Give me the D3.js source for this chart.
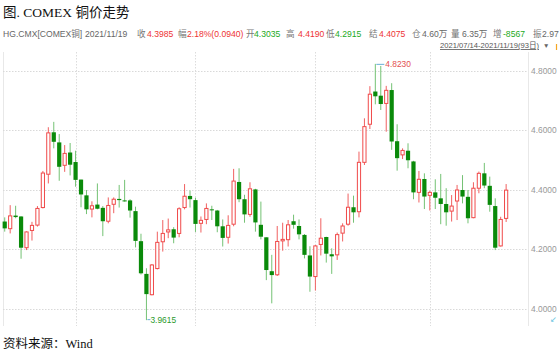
<!DOCTYPE html>
<html>
<head>
<meta charset="utf-8">
<script src="https://cdn.jsdelivr.net/npm/d3@7"></script>
<style>
  body { margin: 0; background: #fff; }
  svg { display: block; }
</style>
</head>
<body>
<div id="chart"></div>
<script>
// daily OHLC, 2021/07/14 - 2021/11/19 (93 sessions)
var openP = [4.293,4.269,4.313,4.310,4.205,4.263,4.281,4.340,4.452,4.593,4.559,4.482,4.525,4.493,4.434,4.381,4.335,4.350,4.339,4.294,
  4.351,4.369,4.364,4.364,4.328,4.227,4.117,4.047,4.135,4.225,4.258,4.267,4.253,4.340,4.379,4.365,4.287,4.300,4.334,4.330,
  4.277,4.240,4.284,4.426,4.368,4.317,4.401,4.282,4.240,4.126,4.114,4.228,4.232,4.294,4.278,4.248,4.179,4.108,4.216,4.241,
  4.183,4.181,4.254,4.284,4.341,4.326,4.492,4.620,4.730,4.716,4.690,4.735,4.563,4.517,4.531,4.495,4.391,4.436,4.381,4.391,
  4.371,4.352,4.328,4.362,4.399,4.376,4.306,4.405,4.455,4.413,4.345,4.211,4.3035];
var highP = [4.307,4.348,4.346,4.311,4.260,4.292,4.345,4.463,4.610,4.628,4.587,4.550,4.557,4.531,4.434,4.399,4.361,4.421,4.345,4.374,
  4.374,4.416,4.433,4.368,4.343,4.252,4.136,4.150,4.259,4.298,4.303,4.274,4.341,4.419,4.397,4.373,4.310,4.354,4.346,4.332,
  4.300,4.314,4.470,4.472,4.383,4.425,4.403,4.360,4.240,4.181,4.278,4.289,4.298,4.316,4.300,4.251,4.210,4.214,4.304,4.242,
  4.203,4.256,4.287,4.387,4.380,4.528,4.640,4.748,4.823,4.816,4.749,4.758,4.620,4.539,4.556,4.497,4.463,4.455,4.396,4.435,
  4.453,4.405,4.382,4.416,4.449,4.399,4.425,4.461,4.490,4.444,4.371,4.309,4.419];
var lowP = [4.259,4.253,4.304,4.168,4.197,4.229,4.276,4.337,4.421,4.539,4.430,4.460,4.448,4.410,4.341,4.318,4.307,4.334,4.244,4.287,
  4.321,4.340,4.360,4.306,4.206,4.115,3.9615,4.045,4.132,4.192,4.237,4.220,4.240,4.334,4.340,4.258,4.256,4.284,4.298,4.257,
  4.209,4.219,4.277,4.358,4.289,4.309,4.259,4.233,4.096,4.018,4.110,4.195,4.209,4.269,4.233,4.169,4.057,4.061,4.179,4.155,
  4.117,4.164,4.226,4.279,4.289,4.307,4.483,4.604,4.687,4.668,4.595,4.534,4.464,4.503,4.472,4.368,4.357,4.335,4.330,4.335,
  4.284,4.279,4.293,4.298,4.354,4.287,4.304,4.388,4.405,4.326,4.197,4.209,4.2915];
var closeP = [4.270,4.312,4.308,4.205,4.258,4.280,4.337,4.456,4.591,4.561,4.477,4.522,4.484,4.433,4.384,4.334,4.346,4.336,4.294,4.347,
  4.368,4.365,4.361,4.330,4.228,4.119,4.049,4.147,4.223,4.253,4.265,4.239,4.336,4.378,4.368,4.285,4.297,4.337,4.331,4.277,
  4.238,4.280,4.429,4.368,4.317,4.403,4.290,4.242,4.130,4.113,4.226,4.233,4.282,4.282,4.250,4.181,4.108,4.211,4.237,4.185,
  4.176,4.249,4.278,4.341,4.324,4.492,4.612,4.721,4.714,4.688,4.734,4.562,4.506,4.532,4.499,4.391,4.435,4.377,4.391,4.373,
  4.352,4.324,4.345,4.399,4.377,4.304,4.405,4.455,4.414,4.349,4.205,4.300,4.3985];

// first session of Aug, Sep, Oct, Nov
var monthStartIdx = [13, 35, 57, 78];
var yTicks = [4.0, 4.2, 4.4, 4.6, 4.8];

// quote strip above the chart
var quoteItems = [
  {t: "HG.CMX[COMEX铜]", c: "#666", x: 3},
  {t: "2021/11/19", c: "#666", x: 85},
  {t: "收", c: "#777", x: 137}, {t: "4.3985", c: "#e33", x: 147},
  {t: "幅", c: "#777", x: 178}, {t: "2.18%(0.0940)", c: "#e33", x: 187},
  {t: "开", c: "#777", x: 246}, {t: "4.3035", c: "#2a2", x: 254},
  {t: "高", c: "#777", x: 286}, {t: "4.4190", c: "#e33", x: 298},
  {t: "低", c: "#777", x: 326}, {t: "4.2915", c: "#2a2", x: 335},
  {t: "结", c: "#777", x: 369}, {t: "4.4075", c: "#e33", x: 379},
  {t: "仓", c: "#777", x: 412}, {t: "4.60万", c: "#666", x: 422},
  {t: "量", c: "#777", x: 451}, {t: "6.35万", c: "#666", x: 462},
  {t: "增", c: "#777", x: 493}, {t: "-8567", c: "#2a2", x: 503},
  {t: "振", c: "#777", x: 533}, {t: "2.97", c: "#666", x: 542}
];

var data = openP.map(function(o, i) {
  return {i: i, open: o, high: highP[i], low: lowP[i], close: closeP[i]};
});

var W = 560, H = 354;
var plotL = 3, plotR = 528, plotT = 52, plotB = 326;

var svg = d3.select("#chart")
  .append("svg")
    .attr("width", W)
    .attr("height", H);

var sans = "'Liberation Sans', Arial, 'Noto Sans CJK SC', sans-serif";
var serif = "'Liberation Serif', 'Times New Roman', 'Noto Sans CJK SC', serif";

// title
svg.append("text")
  .attr("x", 3).attr("y", 17)
  .attr("font-family", serif)
  .attr("font-size", 13.5)
  .attr("fill", "#111")
  .text("图. COMEX 铜价走势");

// quote strip
svg.append("g").selectAll("text")
  .data(quoteItems)
  .enter()
  .append("text")
    .attr("x", function(d) { return d.x; })
    .attr("y", 37)
    .attr("font-family", sans)
    .attr("font-size", 8.6)
    .attr("fill", function(d) { return d.c; })
    .text(function(d) { return d.t; });

// date range
svg.append("text")
  .attr("x", 440).attr("y", 48)
  .attr("font-family", sans)
  .attr("font-size", 8)
  .attr("fill", "#555")
  .attr("text-decoration", "underline")
  .attr("textLength", 99)
  .attr("lengthAdjust", "spacingAndGlyphs")
  .text("2021/07/14-2021/11/19(93日)");
svg.append("text")
  .attr("x", 543).attr("y", 48)
  .attr("font-family", sans)
  .attr("font-size", 6.5)
  .attr("fill", "#666")
  .text("▼");
svg.append("line")
  .attr("x1", 556.5).attr("x2", 556.5)
  .attr("y1", 44).attr("y2", 50)
  .attr("stroke", "#f5a623").attr("stroke-width", 1.2);

// scales
var x = d3.scaleBand()
  .domain(data.map(function(d) { return d.i; }))
  .range([2, 2 + 93 * 5.45])
  .padding(0);

var y = d3.scaleLinear()
  .domain([4.0, 4.8])
  .range([308.7, 70.7]);

function cx(i) { return x(i) + x.bandwidth() / 2; }

// frame
svg.append("line")
  .attr("x1", plotL + 0.5).attr("x2", plotL + 0.5)
  .attr("y1", plotT).attr("y2", plotB)
  .attr("stroke", "#e8e8e8");
svg.append("line")
  .attr("x1", plotR + 0.5).attr("x2", plotR + 0.5)
  .attr("y1", plotT).attr("y2", plotB)
  .attr("stroke", "#e8e8e8");

// grid
svg.append("g").selectAll("line")
  .data(yTicks)
  .enter()
  .append("line")
    .attr("x1", plotL).attr("x2", plotR)
    .attr("y1", function(d) { return Math.round(y(d)) + 0.5; })
    .attr("y2", function(d) { return Math.round(y(d)) + 0.5; })
    .attr("stroke", "#d9d9d9")
    .attr("stroke-dasharray", "1.5,1.5");

svg.append("g").selectAll("line")
  .data(monthStartIdx)
  .enter()
  .append("line")
    .attr("x1", function(d) { return Math.round(cx(d)) + 0.5; })
    .attr("x2", function(d) { return Math.round(cx(d)) + 0.5; })
    .attr("y1", plotT).attr("y2", plotB)
    .attr("stroke", "#dcdcdc")
    .attr("stroke-dasharray", "1.5,1.5");

// right axis
var yAxis = svg.append("g")
  .attr("transform", "translate(" + (plotR + 1) + ",0)")
  .call(d3.axisRight(y).tickValues(yTicks).tickFormat(d3.format(".4f")).tickSize(0).tickPadding(2));
yAxis.select(".domain").remove();
yAxis.selectAll("text")
  .attr("font-family", sans)
  .attr("font-size", 8.4)
  .attr("fill", "#999");

// candles
var upColor = "#f04a4a", downColor = "#0a8a0a";
var candle = svg.append("g").selectAll("g")
  .data(data)
  .enter()
  .append("g");

candle.append("line")
  .attr("x1", function(d) { return cx(d.i); })
  .attr("x2", function(d) { return cx(d.i); })
  .attr("y1", function(d) { return y(d.high); })
  .attr("y2", function(d) { return y(d.low); })
  .attr("stroke", function(d) { return d.close >= d.open ? "#f06060" : "#74c274"; })
  .attr("stroke-width", 1);

candle.append("rect")
  .attr("x", function(d) { return d.close >= d.open ? cx(d.i) - 1.6 : cx(d.i) - 2.1; })
  .attr("width", function(d) { return d.close >= d.open ? 3.2 : 4.2; })
  .attr("y", function(d) { return y(Math.max(d.open, d.close)); })
  .attr("height", function(d) { return Math.max(1, Math.abs(y(d.open) - y(d.close))); })
  .attr("fill", function(d) { return d.close >= d.open ? "#fff" : downColor; })
  .attr("stroke", function(d) { return d.close >= d.open ? upColor : "none"; })
  .attr("stroke-width", 1);

// high / low markers
var hiIdx = d3.maxIndex(highP), loIdx = d3.minIndex(lowP);
svg.append("path")
  .attr("d", "M" + (cx(hiIdx) + 1) + "," + (y(highP[hiIdx]) + 0.5) + "H" + (cx(hiIdx) + 9))
  .attr("stroke", "#6aaed6").attr("fill", "none");
svg.append("text")
  .attr("x", cx(hiIdx) + 10).attr("y", y(highP[hiIdx]) + 3)
  .attr("font-family", sans).attr("font-size", 8.4)
  .attr("fill", "#e35050")
  .text(d3.format(".4f")(highP[hiIdx]));
svg.append("path")
  .attr("d", "M" + (cx(loIdx) + 1) + "," + (y(lowP[loIdx]) - 0.5) + "H" + (cx(loIdx) + 4))
  .attr("stroke", "#6aaed6").attr("fill", "none");
svg.append("text")
  .attr("x", cx(loIdx) + 4).attr("y", y(lowP[loIdx]) + 3)
  .attr("font-family", sans).attr("font-size", 8.4)
  .attr("fill", "#2a9a2a")
  .text(d3.format(".4f")(lowP[loIdx]));

// corner icon
svg.append("text")
  .attr("x", 550).attr("y", 322)
  .attr("font-family", "'DejaVu Sans', sans-serif")
  .attr("font-size", 8)
  .attr("fill", "#5bc0de")
  .text("↙");

// source
svg.append("text")
  .attr("x", 3).attr("y", 348)
  .attr("font-family", serif)
  .attr("font-size", 12.5)
  .attr("fill", "#111")
  .text("资料来源：Wind");
</script>
</body>
</html>
